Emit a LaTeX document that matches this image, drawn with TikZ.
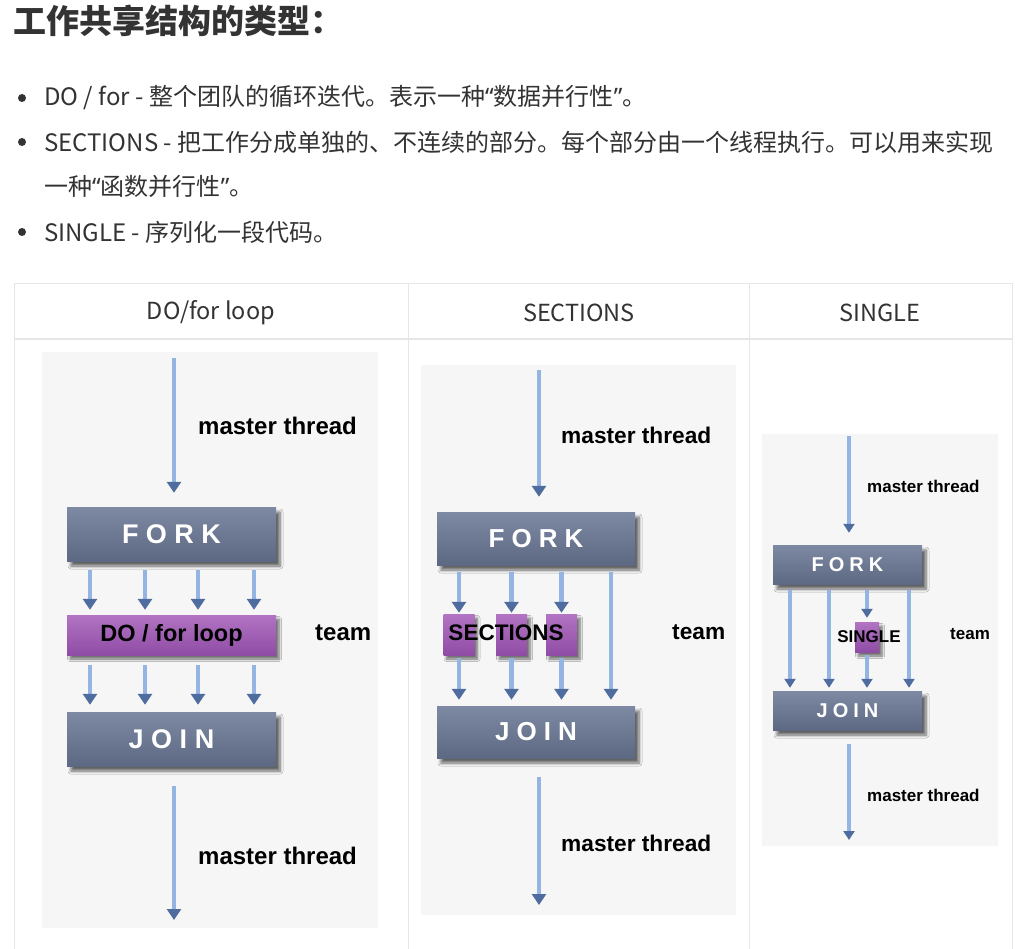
\documentclass[tikz,border=0pt]{standalone}
\usepackage{fontspec}
\setmainfont{Liberation Sans}
\newfontfamily\cjk{Noto Sans CJK SC}
\newfontfamily\lat{Noto Sans}
\newcommand{\myLQ}{{\lat “}}
\newcommand{\myRQ}{{\lat ”}}
\usetikzlibrary{arrows.meta,shadows,shadows.blur}
\definecolor{txt}{HTML}{333333}
\definecolor{grid}{HTML}{E6E6E6}
\definecolor{panel}{HTML}{F6F6F6}
\definecolor{slateT}{HTML}{7E8AA3}
\definecolor{slateB}{HTML}{5D6882}
\definecolor{purT}{HTML}{B274C3}
\definecolor{purB}{HTML}{8F4CA5}
\definecolor{shaft}{HTML}{94B4E3}
\definecolor{head}{HTML}{4F6C9E}
\tikzset{
  panelbg/.style={fill=panel,draw=none},
  slatebox/.style={draw=none,top color=slateT,bottom color=slateB,inner sep=0pt,text=white,
    blur shadow={shadow xshift=4pt,shadow yshift=-5pt,shadow blur steps=6,shadow blur radius=3pt,shadow opacity=60}},
  purbox/.style={draw=none,top color=purT,bottom color=purB,inner sep=0pt,
    blur shadow={shadow xshift=3pt,shadow yshift=-4pt,shadow blur steps=6,shadow blur radius=2.5pt,shadow opacity=55}},
  arr/.style={draw=shaft,line width=4.5pt,-{Triangle[width=14pt,length=11pt,fill=head,color=head]}},
  arrs/.style={draw=shaft,line width=3.5pt,-{Triangle[width=11pt,length=9pt,fill=head,color=head]}},
  lbl/.style={anchor=west,inner sep=0pt,font=\bfseries\fontsize{#1}{#1}\selectfont},
  lbl/.default=24,
  hdr/.style={inner sep=0pt,text=txt,font=\cjk\fontsize{23.5}{23.5}\selectfont},
  bul/.style={anchor=west,inner sep=0pt,text=txt,font=\cjk\fontsize{24}{24}\selectfont},
  dot/.style={circle,fill=txt,inner sep=0pt,minimum size=8pt}
}
\begin{document}
\begin{tikzpicture}[x=1pt,y=-1pt]
\useasboundingbox (0,0) rectangle (1015,949);
\fill[white] (0,0) rectangle (1015,949);

% title and bullets
\node[anchor=west,inner sep=0pt,text=txt,font=\cjk\bfseries\fontsize{33}{33}\selectfont] (title) at (13,21) {工作共享结构的类型：};
\node[dot] (d1) at (22,98) {};
\node[bul] (b1) at (44,98) {DO / for - 整个团队的循环迭代。表示一种\myLQ 数据并行性\myRQ 。};
\node[dot] (d2) at (22,142) {};
\node[bul] (b2) at (44,142) {SECTIONS - 把工作分成单独的、不连续的部分。每个部分由一个线程执行。可以用来实现};
\node[bul] (b2b) at (44,186) {一种\myLQ 函数并行性\myRQ 。};
\node[dot] (d3) at (22,232) {};
\node[bul] (b3) at (44,232) {SINGLE - 序列化一段代码。};

% table
\draw[grid,line width=1pt] (14,949) -- (14,284) -- (1012,284) -- (1012,949);
\draw[grid,line width=1pt] (408,284) -- (408,949);
\draw[grid,line width=1pt] (749,284) -- (749,949);
\draw[grid,line width=2pt] (14,339) -- (1012,339);
\node[hdr] (h1) at (211,313) {DO/for loop};
\node[hdr] (h2) at (579,313) {SECTIONS};
\node[hdr] (h3) at (880,313) {SINGLE};

% ---------- panel 1 ----------
\fill[panelbg] (42,352) rectangle (378,928);
\node[slatebox,minimum width=209pt,minimum height=54pt,font=\bfseries\fontsize{27}{27}\selectfont] (fork1) at (171.5,534) {F\kern7.5pt O\kern7.5pt R\kern7.5pt K};
\node[purbox,minimum width=209pt,minimum height=40pt,font=\bfseries\fontsize{23.5}{23.5}\selectfont] (do1) at (171.5,635) {DO / for loop};
\node[slatebox,minimum width=209pt,minimum height=54pt,font=\bfseries\fontsize{27}{27}\selectfont] (join1) at (171.5,739) {J\kern7.5pt O\kern7.5pt I\kern7.5pt N};
\coordinate (m1a) at (174,358);
\coordinate (m1b) at (174,920);
\draw[arr,shorten >=14pt] (m1a) -- (m1a |- fork1.north);
\node[lbl] (t1a) at (198,426) {master thread};
\foreach \x [count=\i] in {90,145,198,254}{
  \coordinate (c1\i) at (\x,600);
  \draw[arr,shorten <=9pt,shorten >=5pt] (c1\i |- fork1.south) -- (c1\i |- do1.north);
  \draw[arr,shorten <=10pt,shorten >=7pt] (c1\i |- do1.south) -- (c1\i |- join1.north);
}
\node[lbl] (team1) at (315,633) {team};
\draw[arr,shorten <=20pt] (m1a |- join1.south) -- (m1b);
\node[lbl] (t1b) at (198,856) {master thread};

% ---------- panel 2 ----------
\fill[panelbg] (421,365) rectangle (736,915);
\node[slatebox,minimum width=198pt,minimum height=53pt,font=\bfseries\fontsize{26}{26}\selectfont] (fork2) at (536,538.5) {F\kern7pt O\kern7pt R\kern7pt K};
\node[slatebox,minimum width=198pt,minimum height=52pt,font=\bfseries\fontsize{26}{26}\selectfont] (join2) at (536,732) {J\kern7pt O\kern7pt I\kern7pt N};
\node[purbox,minimum width=31pt,minimum height=41pt] (s1) at (459,634.5) {};
\node[purbox,minimum width=31pt,minimum height=41pt] (s2) at (511.5,634.5) {};
\node[purbox,minimum width=31pt,minimum height=41pt] (s3) at (561.5,634.5) {};
\node[inner sep=0pt,font=\bfseries\fontsize{22.5}{22.5}\selectfont] (sec) at (506,633) {SECTIONS};
\coordinate (m2a) at (539,370);
\coordinate (m2b) at (539,905);
\draw[arr,shorten >=15pt] (m2a) -- (m2a |- fork2.north);
\node[lbl=22.7] (t2a) at (561,435) {master thread};
\foreach \b in {s1,s2,s3}{
  \draw[arr,shorten <=7pt,shorten >=1pt] (\b |- fork2.south) -- (\b.north);
  \draw[arr,shorten <=3pt,shorten >=6pt] (\b.south) -- (\b |- join2.north);
}
\coordinate (c24) at (611,640);
\draw[arr,shorten <=7pt,shorten >=6pt] (c24 |- fork2.south) -- (c24 |- join2.north);
\node[lbl=22.7] (team2) at (672,632) {team};
\draw[arr,shorten <=19pt] (m2a |- join2.south) -- (m2b);
\node[lbl=22.7] (t2b) at (561,843) {master thread};

% ---------- panel 3 ----------
\fill[panelbg] (762,434) rectangle (998,846);
\node[slatebox,minimum width=149pt,minimum height=39pt,font=\bfseries\fontsize{20}{20}\selectfont] (fork3) at (847.5,564.5) {F\kern5pt O\kern5pt R\kern5pt K};
\node[slatebox,minimum width=149pt,minimum height=39pt,font=\bfseries\fontsize{20}{20}\selectfont] (join3) at (847.5,710.5) {J\kern5pt O\kern5pt I\kern5pt N};
\node[purbox,minimum width=24pt,minimum height=30pt] (sg) at (867,637) {};
\node[inner sep=0pt,font=\bfseries\fontsize{17}{17}\selectfont] (sgl) at (869,637) {SINGLE};
\coordinate (m3a) at (849,436);
\coordinate (m3b) at (849,840);
\draw[arrs,shorten >=12pt] (m3a) -- (m3a |- fork3.north);
\node[lbl=17] (t3a) at (867,486) {master thread};
\foreach \x [count=\i] in {790,829,909}{
  \coordinate (c3\i) at (\x,640);
  \draw[arrs,shorten <=6pt,shorten >=3pt] (c3\i |- fork3.south) -- (c3\i |- join3.north);
}
\draw[arrs,shorten <=6pt,shorten >=4pt] (sg |- fork3.south) -- (sg.north);
\draw[arrs,shorten <=3pt,shorten >=3pt] (sg.south) -- (sg |- join3.north);
\node[lbl=17] (team3) at (950,634) {team};
\draw[arrs,shorten <=14pt] (m3a |- join3.south) -- (m3b);
\node[lbl=17] (t3b) at (867,795) {master thread};
\end{tikzpicture}
\end{document}
